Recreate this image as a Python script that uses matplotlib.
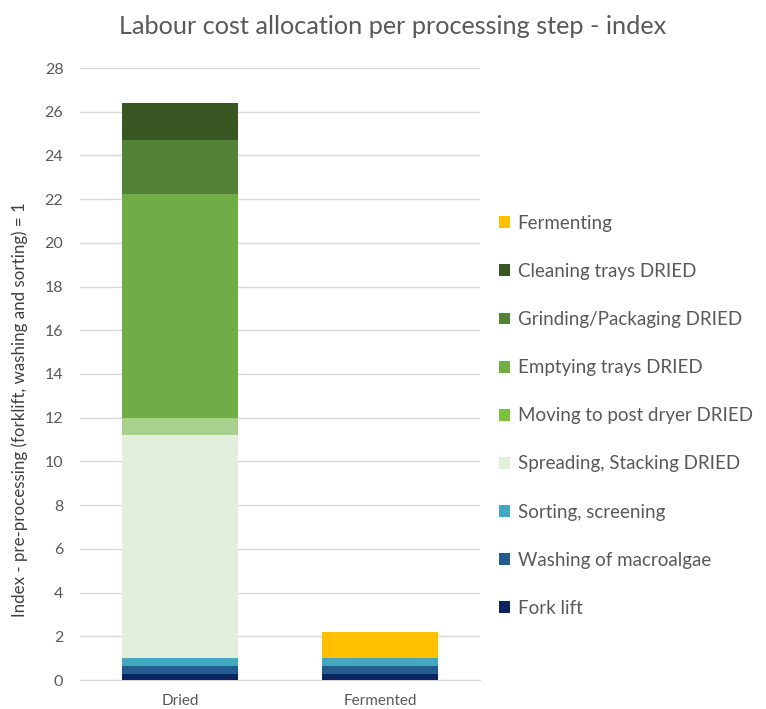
import matplotlib
matplotlib.use("Agg")
import matplotlib.pyplot as plt
from matplotlib.patches import Patch
import numpy as np

plt.rcParams['font.family'] = ['Lato', 'DejaVu Sans']

categories = ["Dried", "Fermented"]

# Stacking order, bottom to top
steps = [
    "Fork lift",
    "Washing of macroalgae",
    "Sorting, screening",
    "Spreading, Stacking DRIED",
    "Moving to post dryer DRIED",
    "Emptying trays DRIED",
    "Grinding/Packaging DRIED",
    "Cleaning trays DRIED",
    "Fermenting",
]

fork_lift = [0.29, 0.29]
washing = [0.34, 0.34]
sorting = [0.37, 0.37]
spreading = [10.2, 0.0]
moving = [0.8, 0.0]
emptying = [10.25, 0.0]
grinding = [2.44, 0.0]
cleaning = [1.73, 0.0]
fermenting = [0.0, 1.2]

series = [fork_lift, washing, sorting, spreading, moving,
          emptying, grinding, cleaning, fermenting]

bar_colors = ["#0c2561", "#245c8f", "#45a8c0", "#e2efda", "#a9d18e",
              "#70ad47", "#538135", "#385723", "#ffc000"]
legend_colors = ["#0c2561", "#245c8f", "#45a8c0", "#e2efda", "#7cc142",
                 "#70ad47", "#538135", "#385723", "#ffc000"]

text_grey = "#595959"

fig = plt.figure(figsize=(7.66, 7.09), dpi=100)
ax = fig.add_axes([80 / 766, 1 - 680 / 709, 400 / 766, (680 - 68) / 709])

x = np.arange(len(categories))
bottom = np.zeros(len(categories))
for vals, col in zip(series, bar_colors):
    v = np.array(vals)
    ax.bar(x, v, width=0.58, bottom=bottom, color=col, edgecolor="none", zorder=3)
    bottom += v

ax.set_xlim(-0.5, 1.5)
ax.set_ylim(0, 28)
ax.set_yticks(np.arange(0, 29, 2))
ax.set_xticks(x)
ax.set_xticklabels(categories)
ax.yaxis.grid(True, color="#d9d9d9", linewidth=1, zorder=0)
ax.set_axisbelow(True)
for s in ax.spines.values():
    s.set_visible(False)
ax.spines["bottom"].set_visible(True)
ax.spines["bottom"].set_color("#d9d9d9")
ax.tick_params(axis="y", length=0, colors=text_grey, labelsize=11.5, pad=12)
ax.tick_params(axis="x", length=0, colors=text_grey, labelsize=11, pad=10)

fig.text(20 / 766, 1 - 410 / 709,
         "Index - pre-processing (forklift, washing and sorting) = 1",
         rotation=90, ha="center", va="center", fontsize=12.2, color="#404040")

fig.text(393 / 766, 1 - 27 / 709, "Labour cost allocation per processing step - index",
         ha="center", va="center", fontsize=18.2, color=text_grey)

handles = [Patch(facecolor=c, edgecolor="none") for c in legend_colors[::-1]]
labels = steps[::-1]
leg = fig.legend(handles, labels, loc="upper left",
                 bbox_to_anchor=(482 / 766, 1 - 198 / 709),
                 frameon=False, fontsize=13.5, labelspacing=1.66,
                 handlelength=0.6, handleheight=0.6, handletextpad=0.4,
                 borderpad=0.4)
for t in leg.get_texts():
    t.set_color(text_grey)

fig.savefig("out.png", dpi=100)
